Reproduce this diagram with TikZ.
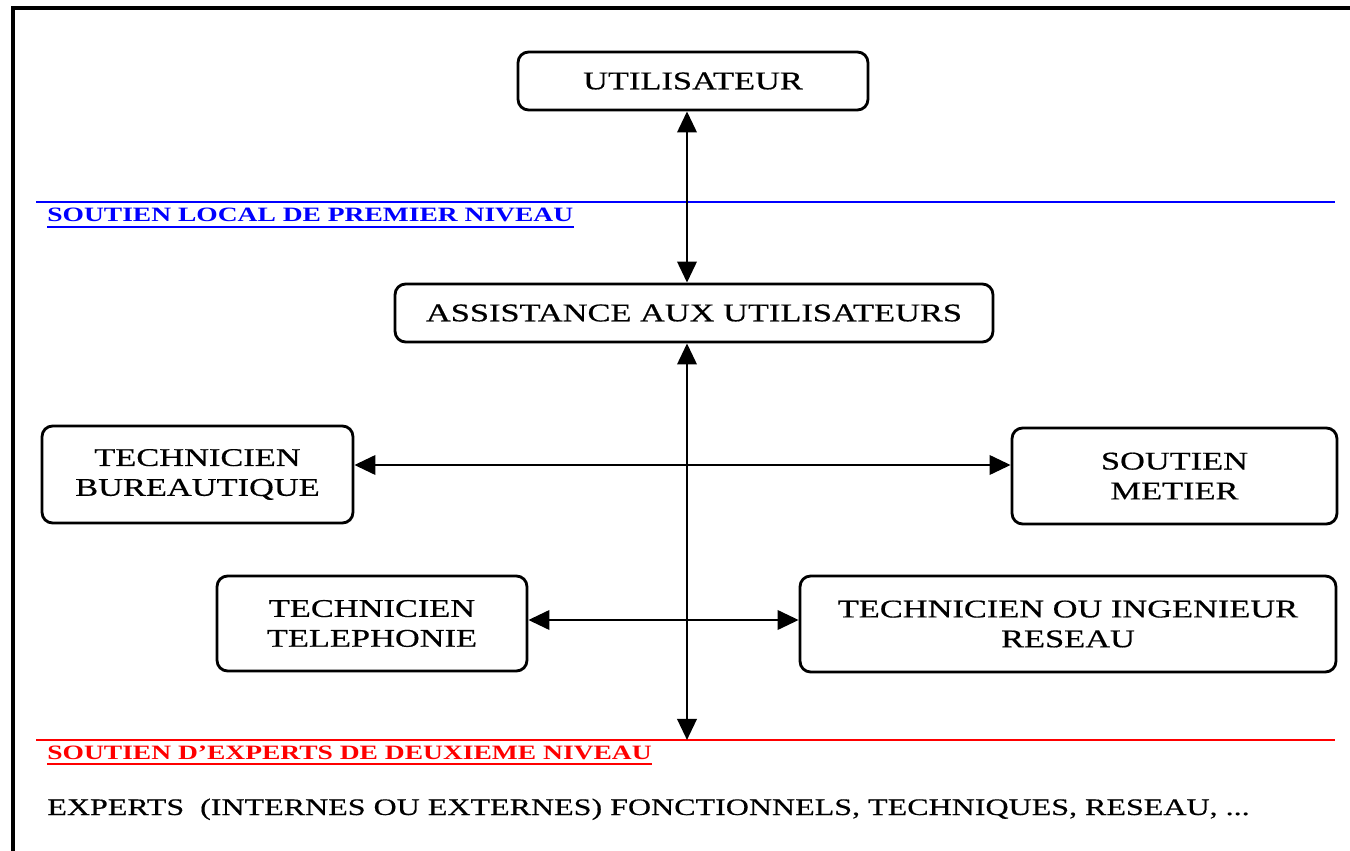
\documentclass[tikz,border=0pt]{standalone}
\usepackage{fontspec}
\setmainfont{Liberation Serif}[FakeStretch=1.35]
\newfontfamily\boxfont{Liberation Serif}[FakeStretch=1.35, FakeBold=0.5]
\usetikzlibrary{arrows.meta, positioning}

\begin{document}
\begin{tikzpicture}[
    x=0.02cm, y=-0.02cm,
    box/.style={draw, line width=1.6pt, rounded corners=6pt, align=center, inner sep=0pt,
      font=\boxfont\fontsize{14.5}{17}\selectfont},
    arrow/.style={{Triangle[length=12pt, width=11pt]}-{Triangle[length=12pt, width=11pt]}, line width=1.6pt},
    level/.style={anchor=base west, inner sep=0pt, font=\fontsize{11.6}{13}\selectfont\bfseries}
  ]
    \useasboundingbox (0,0) rectangle (1350,851);
    % frame
    \draw[line width=2.6pt] (13,851) -- (13,8) -- (1350,8);

    % boxes
    \node[box, minimum width=7cm, minimum height=1.16cm] (user) at (693,81) {UTILISATEUR};
    \node[box, minimum width=11.96cm, minimum height=1.16cm] (assist) at (694,313) {ASSISTANCE AUX UTILISATEURS};
    \node[box, minimum width=6.22cm, minimum height=1.94cm] (bureau) at (197.5,474.5) {TECHNICIEN\\BUREAUTIQUE};
    \node[box, minimum width=6.5cm, minimum height=1.92cm] (metier) at (1174.5,476) {SOUTIEN\\METIER};
    \node[box, minimum width=6.2cm, minimum height=1.9cm] (tel) at (372,623.5) {TECHNICIEN\\TELEPHONIE};
    \node[box, minimum width=10.72cm, minimum height=1.92cm] (reseau) at (1068,624) {TECHNICIEN OU INGENIEUR\\RESEAU};

    % levels
    \draw[blue, line width=1.6pt] (36,202) -- (1335,202);
    \node[level, text=blue] (local) at (47,222) {SOUTIEN LOCAL DE PREMIER NIVEAU};
    \draw[blue, line width=1.1pt] ([yshift=-2.8pt]local.base west) -- ([yshift=-2.8pt]local.base east);
    \draw[red, line width=1.6pt] (36,740) -- (1335,740);
    \node[level, text=red] (expert) at (47,759) {SOUTIEN D’EXPERTS DE DEUXIEME NIVEAU};
    \draw[red, line width=1.1pt] ([yshift=-2.8pt]expert.base west) -- ([yshift=-2.8pt]expert.base east);
    \node[anchor=base west, inner sep=0pt, font=\boxfont\fontsize{13.5}{16}\selectfont] (list) at (47,815)
      {EXPERTS\ \ (INTERNES OU EXTERNES) FONCTIONNELS, TECHNIQUES, RESEAU, ...};

    % connectors
    \coordinate (axis) at (687,0);
    \coordinate (h1) at (0,465);
    \coordinate (h2) at (0,620);
    \coordinate (bottom) at (687,740);
    \draw[arrow] (user.south -| axis) -- (assist.north -| axis);
    \draw[arrow] (assist.south -| axis) -- (bottom);
    \draw[arrow] (bureau.east |- h1) -- (metier.west |- h1);
    \draw[arrow] (tel.east |- h2) -- (reseau.west |- h2);
  \end{tikzpicture}
\end{document}
